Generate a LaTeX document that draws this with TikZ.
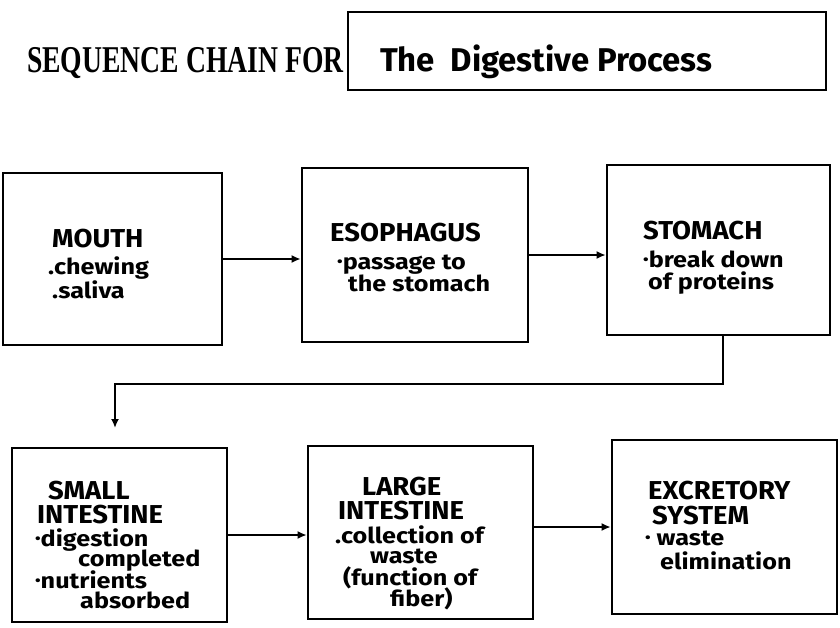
\documentclass[tikz,border=0pt]{standalone}
\usepackage{fontspec}
\usetikzlibrary{arrows.meta}
\newfontfamily\titlefont[FakeStretch=0.73]{Liberation Serif}
\newfontfamily\handfont{Fira Sans}
\newfontfamily\handhead[FakeStretch=1.06]{Fira Sans}
\newfontfamily\handbody[FakeStretch=1.15]{Fira Sans}
\newcommand{\bul}{\raisebox{0.12em}{\fontsize{14}{14}\selectfont•}}
\tikzset{
  blk/.style={draw, line width=2.6pt, inner sep=0pt},
  conn/.style={line width=2.2pt, -{Latex[length=9bp,width=8bp]}},
  hd/.style={anchor=base west, inner sep=0pt, font={\handhead\bfseries\fontsize{26}{28}\selectfont}},
  bd/.style={anchor=base west, inner sep=0pt, font={\handbody\bfseries\fontsize{22}{24}\selectfont}},
}
\begin{document}
\begin{tikzpicture}[x=1bp,y=-1bp]
\useasboundingbox (0,0) rectangle (840,628);
% title
\node[anchor=base west, inner sep=0pt, font={\titlefont\bfseries\fontsize{38}{40}\selectfont}] (seq) at (27,73) {SEQUENCE CHAIN FOR};
\node[draw, line width=1.8pt, minimum width=478bp, minimum height=78bp, inner sep=0pt] (tbox) at (587,51) {};
\node[anchor=base west, inner sep=0pt, font={\handfont\bfseries\fontsize{33}{36}\selectfont}] (ttl) at (380,72) {The\ \ Digestive Process};
% boxes
\node[blk, minimum width=219bp, minimum height=172bp] (mouth) at (112.5,259) {};
\node[blk, minimum width=226bp, minimum height=174bp] (esoph) at (415,255) {};
\node[blk, minimum width=223bp, minimum height=170bp] (stom) at (718.5,250) {};
\node[blk, minimum width=215bp, minimum height=174bp] (si) at (119.5,535) {};
\node[blk, minimum width=225bp, minimum height=173bp] (li) at (420.5,532.5) {};
\node[blk, minimum width=225bp, minimum height=174bp] (ex) at (724.5,527) {};
% texts
\node[hd] (m1) at (52,248) {MOUTH};
\node[bd] (m2) at (48,274) {.chewing};
\node[bd] (m3) at (52,298) {.saliva};
\node[hd] (e1) at (330,242) {ESOPHAGUS};
\node[bd] (e2) at (337,269) {\bul passage to};
\node[bd] (e3) at (348,291) {the stomach};
\node[hd] (s1) at (643,240) {STOMACH};
\node[bd] (s2) at (643,267) {\bul break down};
\node[bd] (s3) at (648,289) {of proteins};
\node[hd] (i1) at (48,499) {SMALL};
\node[hd] (i2) at (37,523) {INTESTINE};
\node[bd] (i3) at (35,546) {\bul digestion};
\node[bd] (i4) at (78,566) {completed};
\node[bd] (i5) at (35,588) {\bul nutrients};
\node[bd] (i6) at (80,608) {absorbed};
\node[hd] (l1) at (362,495) {LARGE};
\node[hd] (l2) at (338,519) {INTESTINE};
\node[bd] (l3) at (335,543) {.collection of};
\node[bd] (l4) at (370,563) {waste};
\node[bd] (l5) at (343,585) {(function of};
\node[bd] (l6) at (390,606) {fiber)};
\node[hd] (x1) at (648,499) {EXCRETORY};
\node[hd] (x2) at (652,524) {SYSTEM};
\node[bd] (x3) at (645,545) {\bul\ waste};
\node[bd] (x4) at (660,569) {elimination};
% connectors
\coordinate (tip) at (115,428);
\draw[conn] (mouth.east) -- (mouth.east -| esoph.west);
\draw[conn] (esoph.east) -- (esoph.east -| stom.west);
\draw[conn] (si.east) -- (si.east -| li.west);
\draw[conn] (li.east |- ex.west) -- (ex.west);
\draw[conn] ([xshift=4.5bp]stom.south) -- ++(0,48) -| (tip);
\end{tikzpicture}
\end{document}
